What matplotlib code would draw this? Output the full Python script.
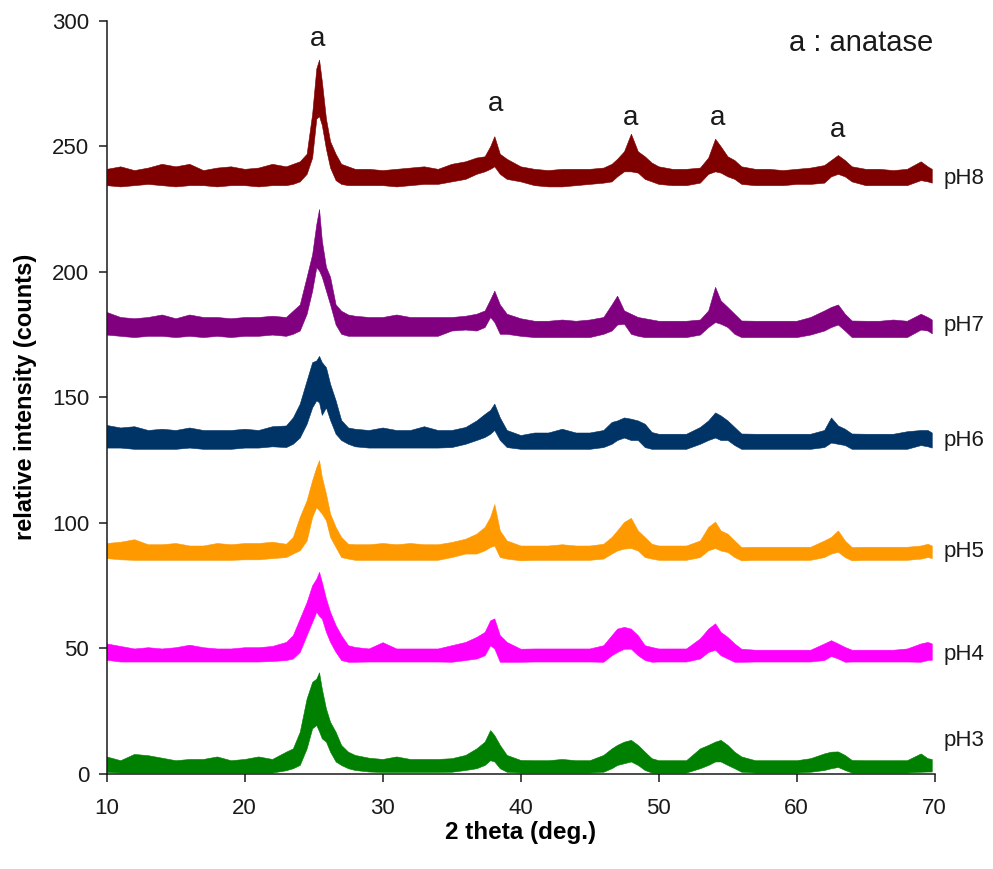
import numpy
import matplotlib
matplotlib.use("Agg")
from matplotlib import pyplot

# 2 theta grid (deg.), denser around the anatase peaks
two_theta = [10, 11, 12, 13, 14, 15, 16, 17, 18, 19, 20, 21, 22,
             23, 23.5, 24, 24.5, 24.9, 25.2, 25.4, 25.6, 25.9, 26.2, 26.6, 27, 27.5, 28,
             29, 30, 31, 32, 33, 34, 35, 36, 36.8, 37.4, 37.8, 38.1, 38.5, 39, 40,
             41, 42, 43, 44, 45, 46, 46.6, 47, 47.5, 48, 48.5, 49, 49.5, 50,
             51, 52, 53, 53.6, 54.1, 54.5, 55, 55.5, 56,
             57, 58, 59, 60, 61, 62, 62.5, 63, 63.5, 64,
             65, 66, 67, 68, 69, 69.5, 69.8]

# lower / upper edge of the noisy trace for each sample (counts)
ph8_hi = [241, 242, 240.5, 241.5, 243, 242, 243, 240.5, 241.5, 242, 241, 241.5, 243,
          242, 243, 244, 247, 263, 281, 284.5, 276, 261, 252, 247, 243, 242, 241,
          241, 240.5, 241, 241.5, 242, 241, 243, 244, 245.5, 246, 250, 254, 247, 245, 242,
          241, 240.5, 241, 241, 241, 241.5, 243, 245, 248, 255, 248, 246, 243.5, 242,
          241, 241, 241.5, 245.5, 253, 250, 246, 244.5, 242,
          241, 241, 240.5, 241, 241.5, 242.5, 244.5, 246.5, 244.5, 242,
          241, 241, 240.5, 241, 244, 242, 241]
ph8_lo = [234.5, 234, 234.5, 235, 234.5, 234, 234.5, 234.5, 234, 234.5, 234.5, 234, 234.5,
          234.5, 235, 236, 239, 245.5, 261, 262, 258.5, 249, 241.5, 236.5, 235, 234.5, 234.5,
          234.5, 234.5, 234, 234.5, 235, 235, 236, 237, 239, 240, 241, 242, 239, 237, 236,
          234.5, 234, 234, 234.5, 235, 235.5, 236, 238, 240, 240, 239.5, 237, 236, 235,
          234.5, 234.5, 235.5, 239, 240, 239.5, 238, 237, 235,
          234.5, 234.5, 234.5, 235, 235, 235.5, 238, 239, 238, 236,
          234.5, 234.5, 234.5, 234.5, 236.5, 236, 235.5]

ph7_hi = [184, 182, 181.5, 182, 183, 181.5, 183, 182, 182, 181.5, 182, 182, 182.5,
          182, 184.5, 187, 198, 207, 219, 225, 212.5, 202, 198, 187, 184.5, 183, 182.5,
          182, 182, 183, 182, 182, 182, 182, 182.5, 183.3, 184.6, 189, 192.5, 187, 183.3, 181.5,
          180.5, 180.5, 181, 180.5, 181, 182, 187, 190.5, 184.6, 183.3, 182, 181.5, 181, 180.5,
          180.5, 180.5, 181, 184.6, 194, 188.6, 186, 183.3, 180.6,
          180.5, 180.5, 180.5, 180.5, 182, 184.6, 186, 187, 183.3, 180.6,
          180.5, 180.5, 181, 180.5, 183.3, 182, 181]
ph7_lo = [175, 174.5, 174, 174.5, 174.5, 174, 174.5, 174, 174.5, 174, 174.5, 174.5, 175,
          174.5, 175.3, 176.6, 183.3, 192.5, 201.8, 200.5, 198, 192.5, 187, 179, 175.3, 174.5, 174.5,
          174.5, 174.5, 174.5, 174.5, 174.5, 174.5, 176.6, 177, 176.6, 178, 182, 180, 175.3, 175.3, 174.5,
          174, 174, 174, 174, 174, 175.3, 176.6, 179, 179.3, 175.3, 174.5, 174, 174, 174,
          174, 174, 175, 178, 180, 179.3, 178, 175.3, 174,
          174, 174, 174, 174, 175, 176.6, 178, 179, 176.6, 174,
          174, 174, 174, 174, 177, 176.6, 175.5]

ph6_hi = [139, 138, 138.5, 137, 137.5, 137, 138, 137, 137, 137, 137.5, 137, 138.5,
          138.8, 142, 147.5, 156.7, 164, 164.7, 166.5, 164, 162, 155.4, 148.8, 141, 138, 137.5,
          137, 138, 137, 137, 138.5, 137, 137, 138.2, 140.8, 143.4, 145, 147.5, 142, 137, 135,
          136, 136, 137.5, 136, 136, 137, 140.2, 140.8, 142, 141.5, 140.8, 139.5, 136.2, 135.5,
          135.5, 135.5, 138.2, 140.8, 144, 142.8, 140.8, 138.2, 135.6,
          135.5, 135.5, 135.5, 135.5, 135.5, 137, 142, 138.8, 137.5, 135.6,
          135.5, 135.5, 135.5, 136.5, 137, 137, 136]
ph6_lo = [130, 130, 129.5, 129.5, 129.5, 129.5, 130, 129.5, 129.5, 129.5, 130, 130, 130.5,
          130.2, 131.5, 134, 139.5, 146, 148.8, 148, 143, 146, 141, 135.5, 133, 131.5, 130.5,
          130, 130, 130, 130, 130, 130, 130.2, 131.5, 133, 134.2, 135.5, 137, 133, 130.2, 129.5,
          129.5, 129.5, 129.5, 129.5, 129.5, 130.2, 131.5, 133, 134, 133, 133, 130.2, 129.5, 129.5,
          129.5, 129.5, 131.5, 133, 134, 133, 133, 131, 129.5,
          129.5, 129.5, 129.5, 129.5, 129.5, 130.2, 132, 131.5, 131, 129.5,
          129.5, 129.5, 129.5, 129.5, 131, 130.5, 130]

ph5_hi = [92, 92.5, 93.5, 91.5, 91.5, 92, 91, 91, 92, 91.5, 92, 92, 92.5,
          91.7, 94.4, 102.4, 109, 117, 122.2, 125, 118.3, 111.6, 103.7, 98.4, 94.4, 91.7, 91.5,
          91.5, 92, 91.5, 92, 91.5, 91.5, 92.4, 93.7, 95.7, 98.4, 102.4, 107.5, 97, 93, 91,
          91, 91, 91.5, 91, 91, 91.7, 94.4, 97, 100.4, 102, 97, 94.4, 91.7, 91,
          91, 91, 93, 98.4, 100.5, 97, 95.7, 93, 90.4,
          90.5, 90.5, 90.5, 90.5, 90.5, 93, 94.4, 97, 93, 90.4,
          90.5, 90.5, 90.5, 90.5, 91, 91.7, 91]
ph5_lo = [86, 85.5, 85.3, 85.3, 85.3, 85.3, 85.3, 85.3, 85.3, 85.3, 85.5, 85.5, 86,
          86.4, 87.8, 89.1, 93, 102.4, 106.3, 105, 103.7, 101, 94.4, 90.4, 86.4, 85.8, 85.3,
          85.3, 85.3, 85.3, 85.3, 85.3, 85.3, 86.4, 87.8, 87.8, 89.1, 90.4, 91, 86.4, 85.8, 85.1,
          85.3, 85.3, 85.3, 85.3, 85.3, 85.8, 87.8, 89, 89.8, 90, 89, 86.4, 85.8, 85.3,
          85.3, 85.3, 86.4, 89.1, 90, 89, 88.4, 86.4, 85.1,
          85.3, 85.3, 85.3, 85.3, 85.3, 86.4, 87.8, 88.5, 86.4, 85.1,
          85.3, 85.3, 85.3, 85.3, 85.8, 86.4, 86]

ph4_hi = [52, 51, 50, 50.5, 50, 50.5, 51.5, 50.5, 50, 50, 50.5, 50.5, 51,
          52.6, 55.3, 61.9, 68.5, 75.2, 77.8, 80.5, 76.5, 69.9, 64.6, 59.3, 55.3, 51.3, 50.6,
          50, 52.5, 50, 50, 50, 50, 51.3, 52.6, 54.6, 56.6, 61.2, 62, 55.3, 52.6, 49.9,
          50, 50, 50, 50, 50, 51.3, 55.3, 57.9, 58.6, 57.9, 55.3, 51.3, 50.6, 50,
          50, 50, 54, 57.9, 60, 56.6, 54.6, 52, 49.9,
          49.5, 49.5, 49.5, 49.5, 49.5, 52, 53.3, 52, 50.6, 49.5,
          49.5, 49.5, 49.5, 50, 52, 52.6, 52]
ph4_lo = [45.5, 44.8, 44.8, 44.8, 44.8, 44.8, 44.8, 44.8, 44.8, 44.8, 44.8, 44.8, 45,
          45.4, 46, 48.6, 55.3, 60.6, 64.6, 63, 61.9, 56.6, 52.6, 48.6, 45.4, 44.7, 44.7,
          44.8, 44.8, 44.8, 44.8, 44.8, 44.8, 44.7, 45.4, 46, 47.3, 51.3, 50, 44.7, 44.7, 44.7,
          44.8, 44.8, 44.8, 44.8, 44.8, 44.7, 47.3, 48.6, 49.9, 49.9, 47.3, 45.4, 44.7, 44.8,
          44.8, 44.8, 46, 48.6, 49.5, 47.3, 46, 44.7, 44.7,
          44.8, 44.8, 44.8, 44.8, 44.8, 45.4, 47, 46, 44.7, 44.8,
          44.8, 44.8, 44.8, 44.8, 44.7, 45.4, 45.5]

ph3_hi = [7, 5.5, 8, 7.5, 6.5, 5.5, 6, 6, 7, 5.5, 6, 7, 6,
          8.9, 10.2, 16.8, 30.1, 36.7, 38, 40.5, 34, 26.1, 20.8, 16.8, 11.6, 8.9, 7.6,
          6.5, 6, 7, 6, 6, 6, 6.3, 7.6, 10.2, 12.9, 17.5, 15.5, 11.6, 7.6, 5.6,
          5.5, 5.5, 6, 5.5, 5.5, 7.6, 10.2, 11.6, 12.9, 13.6, 11.6, 8.9, 6.3, 5.5,
          5.5, 5.5, 10.2, 11.6, 12.9, 13.6, 11.6, 8.9, 7,
          5.5, 5.5, 5.5, 5.5, 6.3, 8.2, 8.9, 9, 7.6, 5.6,
          5.5, 5.5, 5.5, 5.5, 8.2, 6.3, 6]
ph3_lo = [0.8, 0.6, 0.6, 0.6, 0.6, 0.6, 0.6, 0.6, 0.6, 0.6, 0.6, 0.6, 0.6,
          1.5, 2.3, 3.6, 10.2, 18.2, 19.5, 17, 14.2, 12.9, 8.9, 5, 3.6, 2.3, 1.6,
          1, 0.8, 0.8, 0.8, 0.8, 0.8, 0.9, 1.6, 2.3, 3.6, 5.5, 5, 2.3, 0.9, 0.6,
          0.6, 0.6, 0.6, 0.6, 0.6, 0.9, 2.3, 3.6, 4.3, 5, 3.6, 1.6, 0.6, 0.6,
          0.6, 0.6, 2.3, 3.6, 5, 5, 3.6, 2.3, 0.9,
          0.6, 0.6, 0.6, 0.6, 0.9, 1.6, 2.3, 2.8, 1.6, 0.6,
          0.6, 0.6, 0.6, 0.6, 0.9, 1, 1]

sample_names = ["pH8", "pH7", "pH6", "pH5", "pH4", "pH3"]
name_levels = [237, 178.5, 133, 88.5, 47.5, 13.5]

# anatase reflections marked with "a"
peak_theta = [25.3, 38.2, 48.0, 54.3, 63.0]
peak_mark = [290, 264, 258.5, 258.5, 253.5]

series = [(ph8_lo, ph8_hi, "#800000"),
          (ph7_lo, ph7_hi, "#800080"),
          (ph6_lo, ph6_hi, "#003366"),
          (ph5_lo, ph5_hi, "#ff9900"),
          (ph4_lo, ph4_hi, "#ff00ff"),
          (ph3_lo, ph3_hi, "#008000")]

tick_font = ["Liberation Sans", "DejaVu Sans"]
label_font = ["Liberation Sans Narrow", "Liberation Sans", "DejaVu Sans"]

x = numpy.array(two_theta)

fig = pyplot.figure(figsize=(9.93, 8.69), dpi=100)
ax = fig.add_axes([0.1073, 0.1093, 0.8338, 0.8669])

for (lo, hi, c), name, level in zip(series, sample_names, name_levels):
    ax.fill_between(x, lo, hi, color=c, lw=0.4, edgecolor=c)
    ax.text(70.62, level, name, fontsize=16, family=tick_font,
            ha="left", va="center", color="#1a1a1a", clip_on=False)

for t, m in zip(peak_theta, peak_mark):
    ax.text(t, m, "a", fontsize=20, family=tick_font,
            ha="center", va="baseline", color="#1a1a1a")
ax.text(69.9, 288, "a : anatase", fontsize=21, family=tick_font,
        ha="right", va="baseline", color="#1a1a1a")

ax.set_xlim(10, 70)
ax.set_ylim(0, 300)
ax.set_xticks(numpy.arange(10, 71, 10))
ax.set_yticks(numpy.arange(0, 301, 50))

for side in ["top", "right"]:
    ax.spines[side].set_visible(False)
for side in ["left", "bottom"]:
    ax.spines[side].set_linewidth(1.1)
    ax.spines[side].set_color("#1a1a1a")

ax.tick_params(axis="both", direction="out", length=5.5, width=1.1,
               color="#1a1a1a", labelsize=16, labelcolor="#1a1a1a")
ax.tick_params(axis="y", pad=7)
ax.tick_params(axis="x", pad=12)
for lab in ax.get_xticklabels() + ax.get_yticklabels():
    lab.set_family(tick_font)

ax.set_xlabel("2 theta (deg.)", fontsize=17.5, fontweight="bold",
              family=label_font, labelpad=1)
ax.set_ylabel("relative intensity (counts)", fontsize=17, fontweight="bold",
              family=label_font, labelpad=11)

pyplot.savefig("out.png", dpi=100)
